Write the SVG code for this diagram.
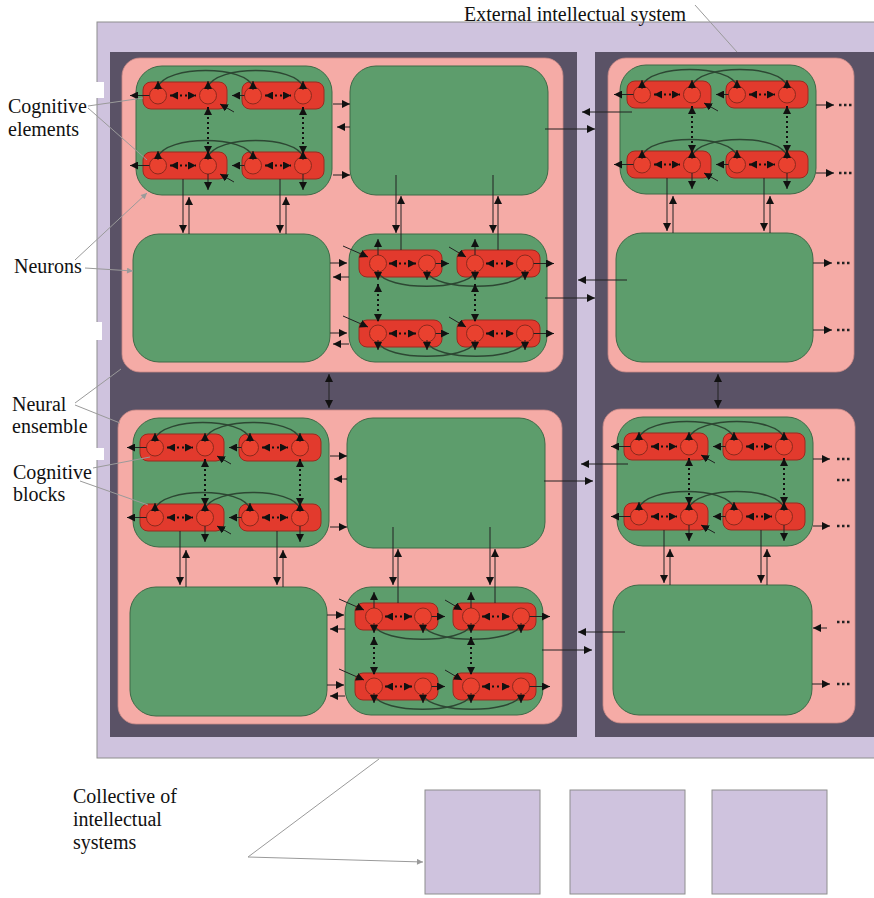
<svg xmlns="http://www.w3.org/2000/svg" width="874" height="898" viewBox="0 0 874 898">
<style>
.lav{fill:#cfc3de;stroke:#8e8e8e;stroke-width:1}
.dark{fill:#5a5266}
.pink{fill:#f5aba6;stroke:#c98986;stroke-width:0.8}
.gr{fill:#5d9d6c;stroke:#3e6a47;stroke-width:1}
.rd{fill:#e23a2d;stroke:#9a2a20;stroke-width:1}
.ci{fill:#e9412f;stroke:#8c2a1e;stroke-width:1}
.arc{fill:none;stroke:#2d4733;stroke-width:1.5}
.ar{fill:none;stroke:#222;stroke-width:1;marker-end:url(#ah)}
.ar2{fill:none;stroke:#222;stroke-width:1;marker-start:url(#ah);marker-end:url(#ah)}
.sm{fill:none;stroke:#222;stroke-width:1;marker-end:url(#as)}
.dot{fill:none;stroke:#111;stroke-width:2;stroke-dasharray:2 3;marker-start:url(#as);marker-end:url(#as)}
.dd{fill:none;stroke:#222;stroke-width:2.5;stroke-dasharray:2.5 2.5}
.lead{fill:none;stroke:#9a9a9a;stroke-width:1}
.leadA{fill:none;stroke:#9a9a9a;stroke-width:1;marker-end:url(#ag)}
.lbl{font-family:"Liberation Serif","Times New Roman",serif;font-size:20px;fill:#111}
</style>
<defs>
<marker id="ah" viewBox="0 0 10 10" refX="10" refY="5" markerWidth="9" markerHeight="8" markerUnits="userSpaceOnUse" orient="auto-start-reverse"><path d="M0,0 L10,5 L0,10 z" fill="#111"/></marker>
<marker id="as" viewBox="0 0 10 10" refX="10" refY="5" markerWidth="8" markerHeight="8" markerUnits="userSpaceOnUse" orient="auto-start-reverse"><path d="M0,0 L10,5 L0,10 z" fill="#111"/></marker>
<marker id="ag" viewBox="0 0 10 10" refX="10" refY="5" markerWidth="7" markerHeight="6" markerUnits="userSpaceOnUse" orient="auto"><path d="M0,0 L10,5 L0,10 z" fill="#9a9a9a"/></marker>
<g id="rowA">
 <rect class="rd" x="7" y="16" width="84" height="27" rx="8"/>
 <rect class="rd" x="106" y="16" width="82" height="27" rx="8"/>
 <path class="arc" d="M22,21 C30,-1 110,-1 117,21"/>
 <path class="arc" d="M72,21 C80,-1 160,-1 167,21"/>
 <circle class="ci" cx="22" cy="29.5" r="8.5"/>
 <circle class="ci" cx="72" cy="29.5" r="8.5"/>
 <circle class="ci" cx="117" cy="29.5" r="8.5"/>
 <circle class="ci" cx="167" cy="29.5" r="8.5"/>
 <path class="sm" d="M22,24 V15"/>
 <path class="sm" d="M72,24 V15"/>
 <path class="sm" d="M117,24 V15"/>
 <path class="sm" d="M167,24 V15"/>
 <path class="sm" d="M13.5,29.5 H-6"/>
 <path class="sm" d="M108.5,29.5 H96"/>
 <path class="dot" d="M34,29.5 H60"/>
 <path class="dot" d="M129,29.5 H155"/>
 <path class="sm" d="M98,46 L84,38"/>
</g>
<g id="blkA">
 <rect class="gr" width="196" height="129" rx="26"/>
 <use href="#rowA"/>
 <use href="#rowA" y="70"/>
 <path class="dot" d="M72,41 V88"/>
 <path class="dot" d="M167,41 V88"/>
 <path class="sm" d="M72,108 V124"/>
 <path class="sm" d="M167,108 V124"/>
</g>
<g id="rowB">
 <rect class="rd" x="10" y="16" width="83" height="27" rx="8"/>
 <rect class="rd" x="108" y="16" width="83" height="27" rx="8"/>
 <path class="arc" d="M29,38 C37,57 118,57 126,38"/>
 <path class="arc" d="M78,38 C86,57 168,57 176,38"/>
 <circle class="ci" cx="29" cy="29.5" r="8.5"/>
 <circle class="ci" cx="78" cy="29.5" r="8.5"/>
 <circle class="ci" cx="126" cy="29.5" r="8.5"/>
 <circle class="ci" cx="176" cy="29.5" r="8.5"/>
 <path class="sm" d="M29,36 V46"/>
 <path class="sm" d="M78,36 V46"/>
 <path class="sm" d="M126,36 V46"/>
 <path class="sm" d="M176,36 V46"/>
 <path class="dot" d="M40,29.5 H67"/>
 <path class="dot" d="M137,29.5 H165"/>
 <path class="sm" d="M86.5,29.5 H100"/>
 <path class="sm" d="M184.5,29.5 H205"/>
 <path class="sm" d="M-6,12 L19,23"/>
 <path class="sm" d="M100,13 L117,23"/>
</g>
<g id="blkB">
 <rect class="gr" width="198" height="128" rx="26"/>
 <use href="#rowB"/>
 <use href="#rowB" y="70"/>
 <path class="sm" d="M29,21 V5"/>
 <path class="sm" d="M126,21 V5"/>
 <path class="dot" d="M29,50 V88"/>
 <path class="dot" d="M126,50 V88"/>
</g>
</defs>

<rect width="874" height="898" fill="#ffffff"/>

<g id="external-system">
 <rect class="lav" x="97" y="22" width="790" height="736"/>
 <rect x="96" y="82" width="8" height="16" fill="#fff"/>
 <rect x="96" y="322" width="6" height="18" fill="#fff"/>
 <rect x="96" y="448" width="8" height="12" fill="#fff"/>
</g>

<g id="panel-left"><rect class="dark" x="110" y="52" width="467" height="685"/></g>
<g id="panel-right"><rect class="dark" x="595" y="52" width="285" height="685"/></g>

<g id="ensemble-tl">
 <rect class="pink" x="122" y="58" width="441" height="314" rx="18"/>
 <g id="tl-block1" transform="translate(136,66)"><use href="#blkA"/></g>
 <g id="tl-block2"><rect class="gr" x="350" y="66" width="198" height="129" rx="26"/></g>
 <g id="tl-block3"><rect class="gr" x="133" y="234" width="197" height="128" rx="26"/></g>
 <g id="tl-block4" transform="translate(349,234)"><use href="#blkB"/></g>
</g>

<g id="ensemble-bl">
 <rect class="pink" x="118" y="410" width="444" height="314" rx="18"/>
 <g id="bl-block1" transform="translate(133,418)"><use href="#blkA"/></g>
 <g id="bl-block2"><rect class="gr" x="347" y="418" width="198" height="130" rx="26"/></g>
 <g id="bl-block3"><rect class="gr" x="130" y="587" width="197" height="129" rx="26"/></g>
 <g id="bl-block4" transform="translate(345,587)"><use href="#blkB"/></g>
</g>

<g id="ensemble-tr">
 <rect class="pink" x="608" y="58" width="246" height="314" rx="18"/>
 <g id="tr-block1" transform="translate(620,65)"><use href="#blkA"/></g>
 <g id="tr-block3"><rect class="gr" x="616" y="233" width="197" height="129" rx="26"/></g>
</g>

<g id="ensemble-br">
 <rect class="pink" x="603" y="409" width="252" height="314" rx="18"/>
 <g id="br-block1" transform="translate(617,417)"><use href="#blkA"/></g>
 <g id="br-block3"><rect class="gr" x="613" y="585" width="199" height="130" rx="26"/></g>
</g>

<g id="collective">
 <rect class="lav" x="425" y="790" width="115" height="104"/>
 <rect class="lav" x="570" y="790" width="115" height="104"/>
 <rect class="lav" x="712" y="790" width="115" height="104"/>
</g>

<g id="connectors">
 <path class="ar" d="M333,104 H350"/>
 <path class="ar" d="M350,127 H337"/>
 <path class="ar" d="M333,175 H350"/>
 <path class="ar" d="M545,129 H595"/>
 <path class="ar" d="M632,112 H582"/>
 <path class="ar" d="M330,263 H347"/>
 <path class="ar" d="M349,277 H333"/>
 <path class="ar" d="M330,333 H347"/>
 <path class="ar" d="M349,344 H333"/>
 <path class="ar" d="M545,298 H595"/>
 <path class="ar" d="M627,280 H578"/>
 <path class="ar" d="M183,179 V233"/>
 <path class="ar" d="M189,234 V197"/>
 <path class="ar" d="M280,179 V233"/>
 <path class="ar" d="M286,234 V197"/>
 <path class="ar" d="M396,175 V233"/>
 <path class="ar" d="M401,250 V196"/>
 <path class="ar" d="M493,175 V233"/>
 <path class="ar" d="M498,250 V196"/>
 <path class="ar2" d="M329,374 V408"/>

 <path class="ar" d="M667,178 V231"/>
 <path class="ar" d="M673,233 V196"/>
 <path class="ar" d="M764,178 V231"/>
 <path class="ar" d="M770,233 V196"/>
 <path class="ar2" d="M718,374 V408"/>
 <path class="ar" d="M816,105 H834"/><path class="dd" d="M839,105 H853"/>
 <path class="ar" d="M816,173 H834"/><path class="dd" d="M839,173 H853"/>
 <path class="ar" d="M813,263 H832"/><path class="dd" d="M837,263 H852"/>
 <path class="ar" d="M813,330 H832"/><path class="dd" d="M837,330 H852"/>

 <path class="ar" d="M330,456 H347"/>
 <path class="ar" d="M347,479 H334"/>
 <path class="ar" d="M330,527 H347"/>
 <path class="ar" d="M544,481 H593"/>
 <path class="ar" d="M628,464 H581"/>
 <path class="ar" d="M327,615 H344"/>
 <path class="ar" d="M345,629 H330"/>
 <path class="ar" d="M327,685 H344"/>
 <path class="ar" d="M345,696 H330"/>
 <path class="ar" d="M542,650 H592"/>
 <path class="ar" d="M625,632 H578"/>
 <path class="ar" d="M180,531 V585"/>
 <path class="ar" d="M186,587 V550"/>
 <path class="ar" d="M277,531 V585"/>
 <path class="ar" d="M283,587 V550"/>
 <path class="ar" d="M393,527 V585"/>
 <path class="ar" d="M398,603 V549"/>
 <path class="ar" d="M490,527 V585"/>
 <path class="ar" d="M495,603 V549"/>

 <path class="ar" d="M664,530 V583"/>
 <path class="ar" d="M670,585 V549"/>
 <path class="ar" d="M761,530 V583"/>
 <path class="ar" d="M767,585 V549"/>
 <path class="ar" d="M813,459 H830"/><path class="dd" d="M837,459 H851"/>
 <path class="dd" d="M837,480 H851"/>
 <path class="ar" d="M813,526 H830"/><path class="dd" d="M837,526 H851"/>
 <path class="ar" d="M827,628 H813"/><path class="dd" d="M837,622 H851"/>
 <path class="ar" d="M812,684 H830"/><path class="dd" d="M837,684 H851"/>
</g>

<g id="leaders">
 <path class="lead" d="M88,106 L143,98"/>
 <path class="lead" d="M88,108 L147,160"/>
 <path class="leadA" d="M75,260 L147,193"/>
 <path class="leadA" d="M85,268 L133,271"/>
 <path class="lead" d="M75,403 L121,369"/>
 <path class="lead" d="M75,405 L120,423"/>
 <path class="lead" d="M93,468 L150,457"/>
 <path class="lead" d="M80,481 L148,505"/>
 <path class="lead" d="M695,5 L737,52"/>
 <path class="lead" d="M248,857 L379,759"/>
 <path class="leadA" d="M248,857 L423,862"/>
</g>

<g id="labels">
 <text class="lbl" x="8" y="113">Cognitive</text>
 <text class="lbl" x="8" y="136">elements</text>
 <text class="lbl" x="14" y="273">Neurons</text>
 <text class="lbl" x="12" y="411">Neural</text>
 <text class="lbl" x="12" y="433">ensemble</text>
 <text class="lbl" x="13" y="479">Cognitive</text>
 <text class="lbl" x="13" y="501">blocks</text>
 <text class="lbl" x="464" y="21">External intellectual system</text>
 <text class="lbl" x="73" y="803">Collective of</text>
 <text class="lbl" x="73" y="826">intellectual</text>
 <text class="lbl" x="73" y="849">systems</text>
</g>
</svg>
